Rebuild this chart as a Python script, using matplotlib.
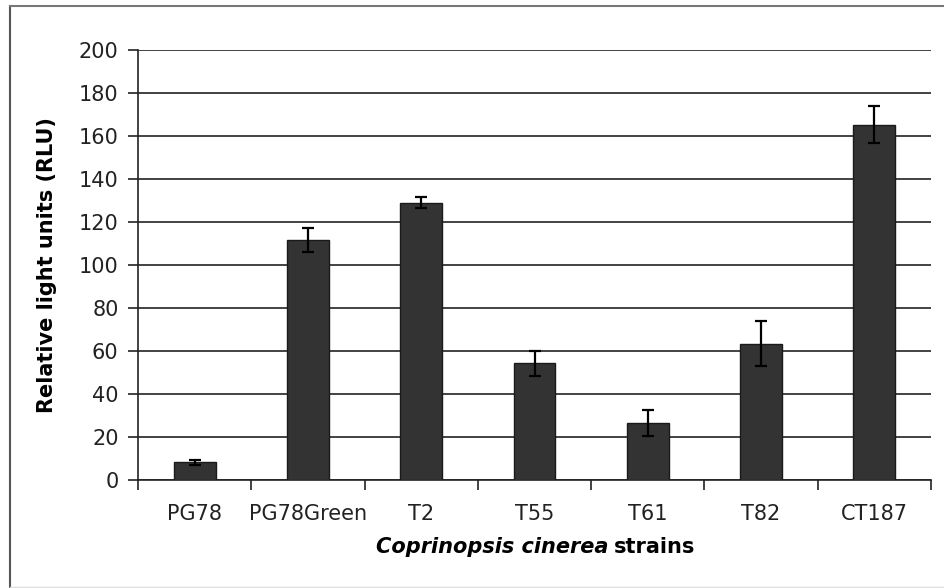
import numpy as np
import matplotlib
matplotlib.use("Agg")
import matplotlib.pyplot as plt
from matplotlib.lines import Line2D

# strains and luminescence readings
strains = ["PG78", "PG78Green", "T2", "T55", "T61", "T82", "CT187"]
rlu = [8.2, 111.8, 129.0, 54.3, 26.6, 63.4, 165.3]
rlu_err = [1.2, 5.6, 2.7, 5.8, 6.1, 10.4, 8.5]

yticks = [0, 20, 40, 60, 80, 100, 120, 140, 160, 180, 200]

W, H = 945, 588
FS = 15
fig = plt.figure(figsize=(W / 100, H / 100), dpi=100, facecolor="white")
ax = fig.add_axes([138 / W, 1 - 480 / H, (931 - 138) / W, (480 - 50) / H])

x = np.arange(len(strains))
ax.bar(x, rlu, width=0.37, color="#333333", edgecolor="#1a1a1a", linewidth=1.0, zorder=3)
ax.errorbar(x, rlu, yerr=rlu_err, fmt="none", ecolor="black", elinewidth=1.6,
            capsize=4.5, capthick=1.6, zorder=4)

ax.set_xlim(-0.5, len(strains) - 0.5)
ax.set_ylim(0, 200)
ax.set_yticks(yticks)
ax.set_xticks(x)
ax.set_xticklabels(strains)
ax.set_xticks(np.arange(len(strains) + 1) - 0.5, minor=True)

# horizontal gridlines in excel style
ax.grid(axis="y", color="#222222", linewidth=1.2, zorder=0)
for s in ["top", "right"]:
    ax.spines[s].set_visible(False)
for s in ["left", "bottom"]:
    ax.spines[s].set_color("#222222")
    ax.spines[s].set_linewidth(1.2)

ax.tick_params(axis="y", direction="out", length=7, width=1.2, labelsize=FS,
               pad=7, colors="#222222")
ax.tick_params(axis="x", which="major", length=0, labelsize=FS, pad=17,
               colors="#222222")
ax.tick_params(axis="x", which="minor", direction="out", length=7, width=1.2,
               color="#222222")

ax.set_ylabel("Relative light units (RLU)", fontsize=FS, fontweight="bold")
ax.yaxis.set_label_coords(57 / W, 1 - 265 / H, transform=fig.transFigure)

# x label: italic species name plus plain bold word
ylab = 1 - 547 / H
fig.text(609 / W, ylab, "Coprinopsis cinerea", fontsize=FS, fontweight="bold",
         fontstyle="italic", ha="right", va="center", color="black")
fig.text(614 / W, ylab, "strains", fontsize=FS, fontweight="bold",
         ha="left", va="center", color="black")

# outer chart border
fig.add_artist(Line2D([10 / W, 10 / W], [0, 1 - 6 / H], transform=fig.transFigure,
                      color="#555555", linewidth=1.5))
fig.add_artist(Line2D([10 / W, 1], [1 - 6 / H, 1 - 6 / H], transform=fig.transFigure,
                      color="#777777", linewidth=1.5))
fig.add_artist(Line2D([10 / W, 1], [1.5 / H, 1.5 / H], transform=fig.transFigure,
                      color="#dddddd", linewidth=1.0))

fig.savefig("out.png", dpi=100, facecolor="white")
